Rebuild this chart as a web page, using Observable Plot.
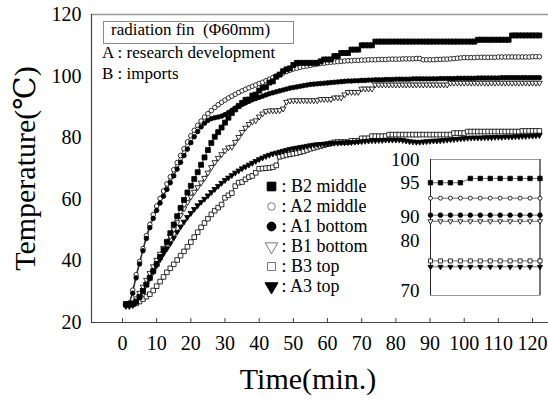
<!DOCTYPE html>
<html><head><meta charset="utf-8">
<script src="https://cdn.jsdelivr.net/npm/d3@7"></script>
<script src="https://cdn.jsdelivr.net/npm/@observablehq/plot@0.6"></script>
<style>
html,body{margin:0;padding:0;background:#fff;}
#chart{position:relative;width:548px;height:399px;overflow:hidden;font-family:"Liberation Serif","Times New Roman","DejaVu Serif",serif;color:#000;}
#chart svg{position:absolute;left:0;top:0;}
.note{position:absolute;white-space:pre;line-height:1;font-size:17px;font-family:"Liberation Serif","Times New Roman","DejaVu Serif",serif;}
#titlebox{position:absolute;border:1px solid #8a8a8a;background:#fff;}
</style></head><body><div id="chart"></div>
<script>
// ---- data ----
const minutes = d3.range(1, 123); // sample every minute, 1..122
const xTicks = [0,10,20,30,40,50,60,70,80,90,100,110,120];
const yTicks = [20,40,60,80,100,120];

const b2Middle = [26.0,26.0,26.0,26.8,28.3,30.2,32.3,34.5,36.7,39.0,
 41.3,43.6,46.2,49.0,51.8,54.5,57.2,59.8,62.2,64.4,
 66.6,68.8,71.2,73.6,76.0,78.3,80.3,81.8,83.3,84.9,
 86.5,88.0,89.2,90.3,91.3,92.3,92.4,93.7,94.0,95.3,
 96.2,96.4,97.9,98.3,99.8,100.5,101.6,102.2,102.5,103.6,
 104.3,104.3,104.3,104.3,104.3,104.3,104.3,104.8,105.4,105.4,
 105.4,106.5,106.5,107.5,107.5,107.5,108.6,108.6,108.6,110.0,
 110.0,110.0,110.0,111.2,111.2,111.2,111.2,111.2,111.2,111.2,
 111.2,111.2,111.2,111.2,111.2,111.2,111.2,111.2,111.2,111.2,
 111.2,111.2,111.2,111.2,111.2,111.2,111.2,111.2,111.2,111.2,
 111.2,111.2,111.2,111.8,111.8,111.8,111.8,111.8,111.8,111.8,
 111.8,111.8,111.8,113.2,113.2,113.2,113.2,113.2,113.2,113.2,113.2,113.2];

const a2Middle = [26.0,26.4,30.5,35.5,39.8,44.0,48.2,51.8,55.0,57.8,
 60.3,62.7,65.0,67.3,69.6,71.9,74.2,76.4,78.6,80.6,
 82.4,84.0,85.4,86.7,87.8,88.8,89.8,90.7,91.5,92.2,
 92.9,93.5,94.1,94.7,95.2,95.7,96.2,96.7,97.1,97.6,
 98.0,98.5,99.0,99.5,100.0,100.5,101.0,101.5,101.9,102.3,
 102.6,102.9,103.1,103.3,103.5,103.7,103.9,104.1,104.2,104.4,
 104.5,104.6,104.7,104.8,104.9,105.0,105.0,105.1,105.1,105.2,
 105.2,105.3,105.3,105.3,105.4,105.4,105.4,105.5,105.5,105.5,
 105.5,105.6,105.6,105.6,105.6,105.7,105.7,105.3,105.3,105.3,
 105.3,105.4,105.4,105.5,105.5,105.6,105.7,105.8,105.9,106.0,
 106.0,106.0,106.0,106.1,106.1,106.1,106.1,106.1,106.1,106.2,
 106.2,106.2,106.2,106.2,106.2,106.2,106.2,106.2,106.2,106.3,106.3,106.3];

const a1Bottom = [25.6,26.0,29.5,34.5,39.0,43.3,47.3,50.8,53.8,56.4,
 58.8,61.0,63.2,65.4,67.6,69.8,72.0,74.2,76.3,78.4,
 80.3,82.0,83.5,84.7,85.6,86.2,86.5,86.7,87.0,87.5,
 88.2,88.9,89.6,90.2,90.8,91.3,91.8,92.3,92.7,93.1,
 93.5,93.9,94.3,94.6,94.9,95.2,95.5,95.8,96.1,96.3,
 96.5,96.7,96.9,97.1,97.3,97.4,97.5,97.6,97.7,97.8,
 97.9,98.0,98.1,98.2,98.3,98.4,98.4,98.5,98.5,98.6,
 98.6,98.7,98.7,98.8,98.8,98.8,98.9,98.9,98.9,99.0,
 99.0,99.0,99.0,99.0,99.1,99.1,99.1,99.1,99.1,99.1,
 99.1,99.1,99.2,99.2,99.2,99.2,99.2,99.3,99.3,99.3,
 99.3,99.3,99.3,99.4,99.4,99.4,99.4,99.4,99.4,99.4,
 99.5,99.5,99.5,99.5,99.5,99.5,99.5,99.5,99.5,99.5,99.5,99.5];

const b1Bottom = [25.8,26.0,26.5,27.8,29.6,31.6,33.8,36.0,38.2,40.3,
 42.3,44.2,46.0,48.0,50.2,52.5,54.8,57.0,59.0,60.8,
 62.4,63.9,65.4,66.9,68.6,70.4,72.0,73.4,74.6,75.8,
 76.8,77.0,78.6,80.2,81.8,83.2,84.4,85.2,85.6,86.8,
 87.8,88.6,88.8,88.8,88.8,88.9,89.4,91.6,92.0,92.1,
 92.1,92.1,92.1,92.1,92.1,92.1,92.1,92.5,92.5,92.5,
 92.5,93.0,93.0,93.0,94.0,94.8,94.8,94.8,94.8,95.9,
 95.9,95.9,95.9,97.2,97.2,97.2,97.2,97.2,97.2,97.2,
 97.2,97.2,97.2,97.2,97.2,97.2,97.2,97.2,97.2,97.2,
 97.2,97.2,97.2,97.2,97.2,97.8,97.8,97.8,97.8,97.8,
 97.8,97.8,97.8,97.8,97.8,97.8,97.8,97.8,97.8,97.8,
 97.8,97.8,97.8,97.8,97.8,97.8,97.8,97.8,97.8,97.8,97.8,97.8];

const b3Top = [25.8,25.8,25.9,26.2,26.8,27.6,28.4,29.2,30.4,31.8,
 33.3,34.8,36.3,37.6,38.9,40.3,41.7,43.1,44.6,46.1,
 47.7,49.3,50.9,52.3,53.7,55.1,56.3,57.3,58.3,60.5,
 61.3,62.0,64.3,65.4,65.6,66.5,67.2,67.6,68.6,69.9,
 70.0,70.1,70.2,70.4,71.0,73.8,74.1,74.4,74.6,74.8,
 75.0,75.3,75.6,76.0,76.4,76.7,77.0,77.3,77.6,77.9,
 78.2,78.5,78.6,78.6,78.6,78.6,79.0,79.0,79.0,79.8,
 79.8,79.8,80.5,80.5,80.5,80.5,80.5,81.0,81.0,81.0,
 81.0,81.0,81.0,81.0,81.0,81.0,81.0,81.0,81.0,81.0,
 81.0,81.0,81.0,81.0,81.0,81.0,81.5,81.5,81.5,81.5,
 82.0,82.0,82.0,82.0,82.0,82.0,82.0,82.0,82.0,82.0,
 82.0,82.0,82.0,82.0,82.0,82.0,82.2,82.2,82.2,82.2,82.2,82.2];

const a3Top = [25.3,25.3,25.6,26.6,28.4,30.5,32.4,34.3,36.4,38.5,
 40.5,42.3,44.0,45.7,47.5,49.4,51.1,52.7,54.2,55.5,
 56.8,58.0,59.1,60.1,61.2,62.3,63.3,64.3,65.3,66.2,
 67.0,67.8,68.6,69.3,70.0,70.6,71.2,71.8,72.4,73.0,
 73.5,74.0,74.4,74.8,75.1,75.4,75.7,76.0,76.3,76.5,
 76.7,76.9,77.1,77.3,77.5,77.7,77.8,77.9,78.0,78.1,
 78.2,78.3,78.3,78.4,78.4,78.5,78.5,78.6,78.7,78.8,
 78.9,79.0,79.1,79.1,79.2,79.2,79.3,79.3,79.3,79.3,
 79.3,79.2,79.0,78.8,78.7,78.6,78.6,78.7,78.8,78.9,
 79.0,79.0,79.1,79.2,79.3,79.4,79.5,79.6,79.7,79.8,
 79.9,80.0,80.0,80.0,80.0,80.1,80.1,80.1,80.2,80.2,
 80.2,80.3,80.3,80.3,80.4,80.4,80.5,80.5,80.6,80.6,80.7,80.8];

// inset (zoomed end values)
const insetIndex = d3.range(0, 12);
const insetTicks = [100, 95, 90, 80, 70];
const insetB2 = [95.1,95.1,95.1,95.1,96.0,96.0,96.0,96.0,96.0,96.0,96.0,96.0];
const insetA2 = [92.8,92.8,92.8,92.8,92.8,92.8,92.8,92.8,92.8,92.8,92.8,92.8];
const insetA1 = [90.3,90.3,90.3,90.3,90.3,90.3,90.3,90.3,90.3,90.3,90.3,90.3];
const insetB1 = [88.3,88.3,88.3,88.3,88.3,88.3,88.3,88.3,88.3,88.3,88.3,88.3];
const insetB3 = [76.0,76.0,76.0,76.0,76.0,76.0,76.0,76.0,76.0,76.0,76.0,76.0];
const insetA3 = [74.8,74.8,74.8,74.8,74.8,74.8,74.8,74.8,74.8,74.8,74.8,74.8];

const names = ["B2 middle","A2 middle","A1 bottom","B1 bottom","B3 top","A3 top"];

// ---- styling ----
const sqrt3 = Math.sqrt(3);
const triangleDown = {draw(ctx, size){ const h = Math.sqrt(size/(sqrt3*3)); ctx.moveTo(0, 2*h); ctx.lineTo(-sqrt3*h, -h); ctx.lineTo(sqrt3*h, -h); ctx.closePath(); }};
const styles = {
  "B3 top":    {symbol:"square", fill:"white", r:2.6, ir:2.3, lr:4.5, lstroke:"#777"},
  "A3 top":    {symbol:triangleDown, fill:"black", r:2.1, ir:1.9, lr:4.8, lstroke:"black"},
  "B1 bottom": {symbol:triangleDown, fill:"white", r:2.1, ir:1.9, lr:4.7, lstroke:"#777"},
  "A2 middle": {symbol:"circle", fill:"white", r:2.3, ir:2.0, lr:3.8, lstroke:"#777"},
  "A1 bottom": {symbol:"circle", fill:"black", r:2.3, ir:2.3, lr:4.4, lstroke:"black"},
  "B2 middle": {symbol:"square", fill:"black", r:2.8, ir:2.5, lr:4.9, lstroke:"black"}
};
const drawOrder = ["B3 top","A3 top","B1 bottom","A2 middle","A1 bottom","B2 middle"];
const mainValues = {"B2 middle":b2Middle,"A2 middle":a2Middle,"A1 bottom":a1Bottom,"B1 bottom":b1Bottom,"B3 top":b3Top,"A3 top":a3Top};
const insetValues = {"B2 middle":insetB2,"A2 middle":insetA2,"A1 bottom":insetA1,"B1 bottom":insetB1,"B3 top":insetB3,"A3 top":insetA3};

const rows = names.flatMap(n => minutes.map((t,i) => ({name:n, t, v: mainValues[n][i]})));
const insetRows = names.flatMap(n => insetIndex.map((k,i) => ({name:n, k, v: insetValues[n][i]})));

const font = '"Liberation Serif","Times New Roman","DejaVu Serif",serif';
const W = 548, H = 399;
const xDomain = [-9.07, 124.67];
const yDomain = [20, 120];

const seriesMarks = [];
for (const n of drawOrder) {
  const d = rows.filter(r => r.name === n);
  seriesMarks.push(Plot.line(d, {x:"t", y:"v", stroke:"#000", strokeWidth:0.8}));
}
for (const n of drawOrder) {
  const d = rows.filter(r => r.name === n), s = styles[n];
  seriesMarks.push(Plot.dot(d, {x:"t", y:"v", symbol:s.symbol, r:s.r, fill:s.fill, stroke:"#000", strokeWidth:0.8}));
}

const main = Plot.plot({
  width:W, height:H, marginLeft:91, marginRight:0, marginTop:14, marginBottom:77,
  style:{fontFamily:font, background:"white", color:"#000", overflow:"visible"},
  x:{domain:xDomain}, y:{domain:yDomain},
  marks:[
    Plot.ruleY([yDomain[1]], {stroke:"#999", strokeWidth:1.5}),
    Plot.ruleY([yDomain[0]], {stroke:"#444", strokeWidth:1.2}),
    Plot.ruleX([xDomain[0]], {stroke:"#444", strokeWidth:1.2}),
    Plot.ruleX(xTicks, {y1:yDomain[0], y2:yDomain[0]+1.3, stroke:"#444"}),
    Plot.axisX({ticks:xTicks, tickSize:0, tickPadding:13, fontSize:20, label:null}),
    Plot.axisY({ticks:yTicks, tickSize:0, tickPadding:10, fontSize:20, label:null}),
    Plot.text(["Temperature(℃)"], {text:d=>d, frameAnchor:"left", textAnchor:"middle", lineAnchor:"middle", rotate:-90, dx:-66, fontSize:30}),
    Plot.text(["Time(min.)"], {text:d=>d, frameAnchor:"bottom", textAnchor:"middle", lineAnchor:"middle", dx:-12, dy:57, fontSize:30}),
    ...seriesMarks
  ]
});

// inset with a piecewise (broken) temperature scale
const insetMarks = [Plot.frame({stroke:"#999"}), Plot.ruleX([insetIndex[0], insetIndex[insetIndex.length-1]], {stroke:"#222"})];
for (const n of drawOrder) {
  const d = insetRows.filter(r => r.name === n);
  insetMarks.push(Plot.line(d, {x:"k", y:"v", stroke:"#444", strokeWidth:0.8}));
}
for (const n of drawOrder) {
  const d = insetRows.filter(r => r.name === n), s = styles[n];
  insetMarks.push(Plot.dot(d, {x:"k", y:"v", symbol:s.symbol, r:s.ir, fill:s.fill, stroke:"#000", strokeWidth:0.8}));
}
insetMarks.push(Plot.axisY({ticks:insetTicks, tickSize:0, tickPadding:11, fontSize:19, label:null}));
const inset = Plot.plot({
  width:W, height:H, marginLeft:430, marginRight:8.5, marginTop:159, marginBottom:104,
  style:{fontFamily:font, background:"transparent", color:"#000", overflow:"visible"},
  x:{domain:[insetIndex[0], insetIndex[insetIndex.length-1]], axis:null},
  y:{type:"linear", domain:[70,80,90,95,100], range:[290,240.7,216.7,182.7,159], axis:null},
  marks: insetMarks
});

// legend
const legendMarks = [];
for (const n of names) {
  const s = styles[n];
  legendMarks.push(Plot.dot([n], {y:d=>d, frameAnchor:"left", symbol:s.symbol, r:s.lr, fill:s.fill, stroke:s.lstroke, strokeWidth:1}));
}
legendMarks.push(Plot.text(names, {y:d=>d, text:d=>": " + d, frameAnchor:"left", dx:10, textAnchor:"start", fontSize:18}));
const legend = Plot.plot({
  width:W, height:H, marginLeft:271, marginRight:0, marginTop:183, marginBottom:111,
  style:{fontFamily:font, background:"transparent", color:"#000", overflow:"visible"},
  y:{type:"point", domain:names, range:[183.3, 287.7], padding:0, axis:null},
  marks: legendMarks
});

const chart = document.getElementById("chart");
chart.append(main, inset, legend);

const box = document.createElement("div");
box.id = "titlebox";
Object.assign(box.style, {left:"103px", top:"21px", width:"189px", height:"21px"});
chart.append(box);
const notes = [
  {text:"radiation fin  (Φ60mm)", left:111, top:21},
  {text:"A : research development", left:102, top:44},
  {text:"B : imports", left:102, top:65}
];
for (const n of notes) {
  const el = document.createElement("div");
  el.className = "note";
  el.textContent = n.text;
  el.style.left = n.left + "px";
  el.style.top = n.top + "px";
  chart.append(el);
}
</script></body></html>
